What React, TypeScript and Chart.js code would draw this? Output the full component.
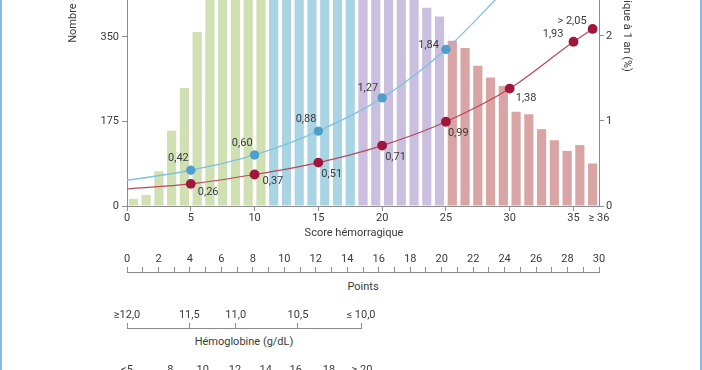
import React, { useEffect, useRef } from 'react';
import { Chart, registerables } from 'chart.js';

Chart.register(...registerables);

// ---------- data ----------
const scoreTickValues = [0, 5, 10, 15, 20, 25, 30, 35, 37];
const scoreTickLabels = ['0', '5', '10', '15', '20', '25', '30', '35', '≥ 36'];

// one bar per score 0..≥36 (bars above the crop are estimated)
const barCounts = [
  15, 23, 72, 156, 244, 360, 450, 520, 560, 600, 620,
  640, 650, 660, 650, 640, 620, 590,
  560, 530, 500, 470, 440, 410, 392,
  342, 327, 290, 266, 248, 195, 190, 159, 136, 114, 126, 88,
];
// 0 = green, 1 = blue, 2 = purple, 3 = red
const barGroups = [
  0, 0, 0, 0, 0, 0, 0, 0, 0, 0, 0,
  1, 1, 1, 1, 1, 1, 1,
  2, 2, 2, 2, 2, 2, 2,
  3, 3, 3, 3, 3, 3, 3, 3, 3, 3, 3, 3,
];

const countTicks = [0, 175, 350, 525, 700, 875];
const riskTicks = [0, 1, 2, 3, 4];

const blueDotX = [5, 10, 15, 20, 25];
const blueDotY = [0.42, 0.6, 0.88, 1.27, 1.84];
const blueLabels = ['0,42', '0,60', '0,88', '1,27', '1,84'];
const blueCurveX = [0, 5, 10, 15, 20, 25, 29.5];
const blueCurveY = [0.3, 0.42, 0.6, 0.88, 1.27, 1.84, 2.52];

const redDotX = [5, 10, 15, 20, 25, 30, 35, 36.5];
const redDotY = [0.26, 0.37, 0.51, 0.71, 0.99, 1.38, 1.93, 2.08];
const redLabels = ['0,26', '0,37', '0,51', '0,71', '0,99', '1,38', '1,93', '> 2,05'];
const redCurveX = [0, 5, 10, 15, 20, 25, 30, 35, 36.5];
const redCurveY = [0.2, 0.26, 0.37, 0.51, 0.71, 0.99, 1.38, 1.93, 2.08];

const pointTickValues = [0, 1, 2, 3, 4, 5, 6, 7, 8, 9, 10, 11, 12, 13, 14, 15, 16, 17, 18, 19, 20, 21, 22, 23, 24, 25, 26, 27, 28, 29, 30];
const pointTickLabels = ['0', '', '2', '', '4', '', '6', '', '8', '', '10', '', '12', '', '14', '', '16', '', '18', '', '20', '', '22', '', '24', '', '26', '', '28', '', '30'];

const hbPoints = [0, 3.95, 6.9, 10.85, 14.85];
const hbLabels = ['≥12,0', '11,5', '11,0', '10,5', '≤ 10,0'];

const row4Points = [0, 2.75, 4.8, 6.85, 8.8, 10.7, 12.8, 14.9];
const row4Labels = ['<5', '8', '10', '12', '14', '16', '18', '≥ 20'];

// ---------- style ----------
const W = 702;
const AREA_LEFT = 127;
const AREA_RIGHT = 599;
const TEXT = '#3a3a3a';
const AXIS = '#8c8c8c';
const FONT = { family: 'Roboto, "Liberation Sans", sans-serif', size: 11 };
const GROUP_COLORS = ['#cfe0b3', '#a9d4e4', '#cbbfe0', '#d8a4a4'];
const BLUE_LINE = '#80c2de';
const BLUE_DOT = '#4f9fcb';
const RED_LINE = '#bb4560';
const RED_DOT = '#a1163b';

// label placement relative to dot: [dx, dy, textAlign]
const bluePlace: [number, number, CanvasTextAlign][] = [
  [-2, -12, 'right'], [-2, -12, 'right'], [-2, -12, 'right'], [-4, -10, 'right'], [-7, -4, 'right'],
];
const redPlace: [number, number, CanvasTextAlign][] = [
  [7, 8, 'left'], [8, 7, 'left'], [3, 12, 'left'], [3, 12, 'left'], [2, 12, 'left'], [6, 10, 'left'], [-10, -7, 'right'], [-6, -8, 'right'],
];

const MAIN_TOP = -240;
const MAIN_H = 480;
const PAD_TOP = 23;
const X_AXIS_H = 34;

const dotLabelPlugin = {
  id: 'dotLabels',
  afterDatasetsDraw(chart: any) {
    const c = chart.ctx as CanvasRenderingContext2D;
    c.save();
    c.font = `${FONT.size}px ${FONT.family}`;
    c.fillStyle = TEXT;
    c.textBaseline = 'middle';
    const sets: [number, string[], [number, number, CanvasTextAlign][]][] = [
      [0, blueLabels, bluePlace],
      [1, redLabels, redPlace],
    ];
    sets.forEach(([idx, labels, place]) => {
      const meta = chart.getDatasetMeta(idx);
      meta.data.forEach((pt: any, i: number) => {
        const [dx, dy, align] = place[i];
        c.textAlign = align;
        c.fillText(labels[i], pt.x + dx, pt.y + dy);
      });
    });
    c.restore();
  },
};

function MainChart() {
  const ref = useRef<HTMLCanvasElement>(null);
  useEffect(() => {
    const chart = new Chart(ref.current!, {
      type: 'bar',
      data: {
        datasets: [
          {
            type: 'scatter',
            data: blueDotX.map((x, i) => ({ x, y: blueDotY[i] })),
            yAxisID: 'y1',
            pointRadius: 4.7,
            pointBackgroundColor: BLUE_DOT,
            pointBorderWidth: 0,
            order: 0,
          } as any,
          {
            type: 'scatter',
            data: redDotX.map((x, i) => ({ x, y: redDotY[i] })),
            yAxisID: 'y1',
            pointRadius: 4.9,
            pointBackgroundColor: RED_DOT,
            pointBorderWidth: 0,
            order: 0,
          } as any,
          {
            type: 'line',
            data: blueCurveX.map((x, i) => ({ x, y: blueCurveY[i] })),
            yAxisID: 'y1',
            borderColor: BLUE_LINE,
            borderWidth: 1.3,
            pointRadius: 0,
            cubicInterpolationMode: 'monotone',
            fill: false,
            order: 1,
          } as any,
          {
            type: 'line',
            data: redCurveX.map((x, i) => ({ x, y: redCurveY[i] })),
            yAxisID: 'y1',
            borderColor: RED_LINE,
            borderWidth: 1.2,
            pointRadius: 0,
            cubicInterpolationMode: 'monotone',
            fill: false,
            order: 1,
          } as any,
          {
            type: 'bar',
            data: barCounts.map((v, i) => ({ x: i + 0.5, y: v })),
            yAxisID: 'y',
            backgroundColor: barGroups.map((g) => GROUP_COLORS[g]),
            borderWidth: 0,
            categoryPercentage: 0.8,
            barPercentage: 0.9,
            order: 2,
          } as any,
        ],
      },
      options: {
        responsive: false,
        animation: false,
        devicePixelRatio: 1,
        layout: { padding: { top: PAD_TOP, left: 0, right: 0, bottom: 0 } },
        plugins: { legend: { display: false }, tooltip: { enabled: false } },
        scales: {
          x: {
            type: 'linear',
            offset: false,
            min: 0,
            max: 37,
            afterBuildTicks: (s: any) => {
              s.ticks = scoreTickValues.map((v) => ({ value: v }));
            },
            afterFit: (s: any) => {
              s.height = X_AXIS_H;
            },
            ticks: {
              autoSkip: false,
              maxRotation: 0,
              padding: 1,
              color: TEXT,
              font: FONT,
              callback: (_v: any, i: number) => scoreTickLabels[i],
            },
            grid: {
              offset: false,
              drawOnChartArea: false,
              tickLength: 5,
              color: AXIS,
              tickColor: (ctx: any) => (ctx.tick && ctx.tick.value === 37 ? 'rgba(0,0,0,0)' : AXIS),
            },
            border: { color: AXIS, width: 1 },
          },
          y: {
            position: 'left',
            min: 0,
            max: 875,
            afterBuildTicks: (s: any) => {
              s.ticks = countTicks.map((v) => ({ value: v }));
            },
            afterFit: (s: any) => {
              s.width = AREA_LEFT;
            },
            ticks: { padding: 3, color: TEXT, font: FONT },
            grid: { drawOnChartArea: false, tickLength: 5, color: AXIS },
            border: { color: AXIS, width: 1 },
            title: {
              display: true,
              text: 'Nombre de patients',
              color: TEXT,
              font: FONT,
              padding: { top: 66.4, bottom: 0 },
            },
          },
          y1: {
            position: 'right',
            min: 0,
            max: 4.97,
            afterBuildTicks: (s: any) => {
              s.ticks = riskTicks.map((v) => ({ value: v }));
            },
            afterFit: (s: any) => {
              s.width = W - AREA_RIGHT;
            },
            ticks: { padding: 2, color: TEXT, font: FONT },
            grid: { drawOnChartArea: false, tickLength: 5, color: AXIS },
            border: { color: AXIS, width: 1 },
            title: {
              display: true,
              text: 'Risque hémorragique à 1 an (%)',
              color: TEXT,
              font: FONT,
              padding: { top: 68.4, bottom: 0 },
            },
          },
        },
      } as any,
      plugins: [dotLabelPlugin],
    });
    return () => chart.destroy();
  }, []);
  return (
    <canvas
      ref={ref}
      width={W}
      height={MAIN_H}
      style={{ position: 'absolute', left: 0, top: MAIN_TOP, width: W, height: MAIN_H }}
    />
  );
}

type RowProps = {
  lineY: number;
  areaRight: number;
  min: number;
  max: number;
  values: number[];
  labels: string[];
  tickLength: number;
};

function AxisRow({ lineY, areaRight, min, max, values, labels, tickLength }: RowProps) {
  const ref = useRef<HTMLCanvasElement>(null);
  const AXH = 24;
  useEffect(() => {
    const chart = new Chart(ref.current!, {
      type: 'scatter',
      data: { datasets: [] },
      options: {
        responsive: false,
        animation: false,
        devicePixelRatio: 1,
        layout: { padding: { left: AREA_LEFT, right: W - areaRight, top: 0, bottom: 0 } },
        plugins: { legend: { display: false }, tooltip: { enabled: false } },
        scales: {
          x: {
            type: 'linear',
            position: 'top',
            min,
            max,
            afterBuildTicks: (s: any) => {
              s.ticks = values.map((v) => ({ value: v }));
            },
            afterFit: (s: any) => {
              s.height = AXH;
            },
            ticks: {
              autoSkip: false,
              maxRotation: 0,
              padding: 1,
              color: TEXT,
              font: FONT,
              callback: (_v: any, i: number) => labels[i],
            },
            grid: { drawOnChartArea: false, tickLength, color: AXIS },
            border: { color: AXIS, width: 1 },
          },
          y: { display: false },
        },
      } as any,
    });
    return () => chart.destroy();
  }, []);
  return (
    <canvas
      ref={ref}
      width={W}
      height={AXH + 6}
      style={{ position: 'absolute', left: 0, top: lineY - AXH, width: W, height: AXH + 6 }}
    />
  );
}

function Caption({ text, cx, cy }: { text: string; cx: number; cy: number }) {
  return (
    <div
      style={{
        position: 'absolute',
        left: cx - 150,
        top: cy - 7,
        width: 300,
        height: 14,
        lineHeight: '14px',
        textAlign: 'center',
        fontFamily: FONT.family,
        fontSize: FONT.size,
        color: TEXT,
        whiteSpace: 'nowrap',
      }}
    >
      {text}
    </div>
  );
}

export default function App() {
  return (
    <div
      style={{
        position: 'absolute',
        left: 0,
        top: 0,
        width: W,
        height: 370,
        overflow: 'hidden',
        background: '#ffffff',
      }}
    >
      <MainChart />
      <Caption text="Score hémorragique" cx={354} cy={233} />
      <AxisRow lineY={271.5} areaRight={AREA_RIGHT} min={0} max={30} values={pointTickValues} labels={pointTickLabels} tickLength={5} />
      <Caption text="Points" cx={363} cy={287} />
      <AxisRow lineY={327.5} areaRight={361} min={0} max={14.85} values={hbPoints} labels={hbLabels} tickLength={5} />
      <Caption text="Hémoglobine (g/dL)" cx={244} cy={342} />
      <AxisRow lineY={383} areaRight={362} min={0} max={14.9} values={row4Points} labels={row4Labels} tickLength={5} />
      <div style={{ position: 'absolute', left: 0, top: 0, width: 2, height: 370, background: '#8ab8ea' }} />
      <div style={{ position: 'absolute', left: 700, top: 0, width: 2, height: 370, background: '#8ab8ea' }} />
    </div>
  );
}
